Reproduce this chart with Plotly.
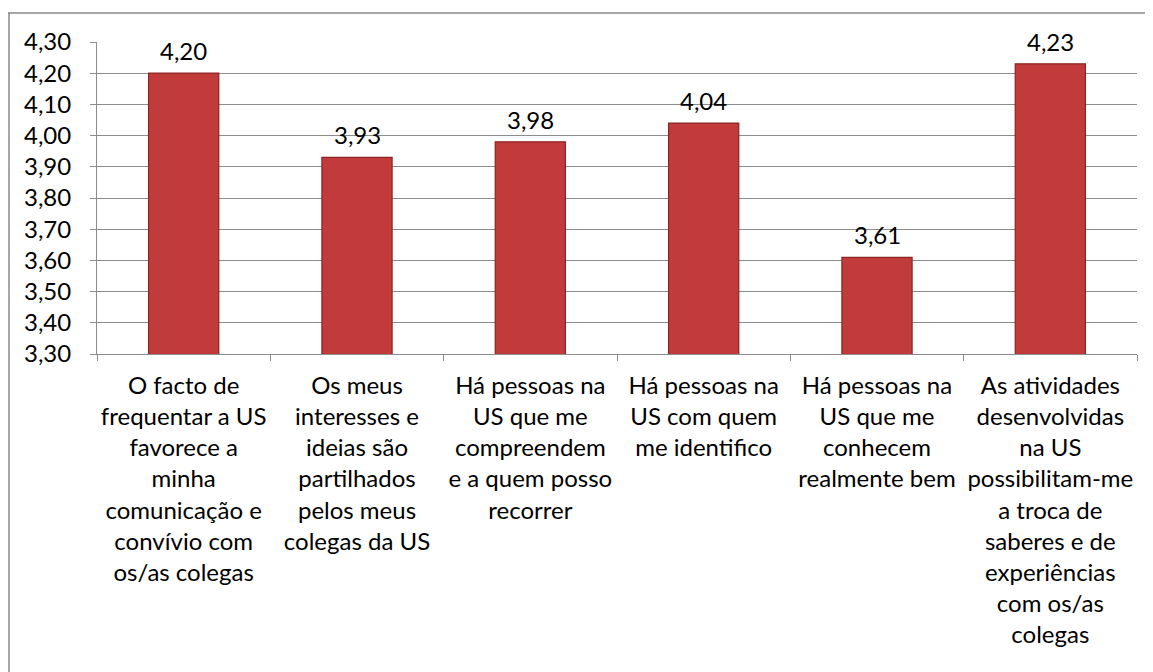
import plotly.graph_objects as go

categorias = [
    "O facto de<br>frequentar a US<br>favorece a<br>minha<br>comunicação e<br>convívio com<br>os/as colegas",
    "Os meus<br>interesses e<br>ideias são<br>partilhados<br>pelos meus<br>colegas da US",
    "Há pessoas na<br>US que me<br>compreendem<br>e a quem posso<br>recorrer",
    "Há pessoas na<br>US com quem<br>me identifico",
    "Há pessoas na<br>US que me<br>conhecem<br>realmente bem",
    "As atividades<br>desenvolvidas<br>na US<br>possibilitam-me<br>a troca de<br>saberes e de<br>experiências<br>com os/as<br>colegas",
]
medias = [4.20, 3.93, 3.98, 4.04, 3.61, 4.23]

fonte = dict(family="Lato, Open Sans, sans-serif", size=24, color="black")

fig = go.Figure()

fig.add_trace(go.Bar(
    x=categorias,
    y=medias,
    width=0.405,
    marker=dict(color="#c23b3b", line=dict(color="#8c2424", width=1.2)),
    cliponaxis=False,
    hoverinfo="skip",
))

# rótulos de dados acima das barras
for cat, val in zip(categorias, medias):
    fig.add_annotation(
        x=cat, y=val,
        text=f"{val:.2f}".replace(".", ","),
        showarrow=False,
        yanchor="bottom",
        yshift=6,
        font=fonte,
    )

# a página tem 8px de margem no corpo, por isso a figura fica um pouco menor
fig.update_layout(
    width=1145,
    height=664,
    margin=dict(l=89, r=16, t=34, b=318),
    plot_bgcolor="white",
    paper_bgcolor="white",
    separators=",.",
    showlegend=False,
    font=fonte,
    shapes=[
        # moldura do gráfico (só esquerda e topo visíveis)
        dict(type="line", xref="paper", yref="paper", x0=-0.0856, x1=1.1, y0=1.093, y1=1.093,
             line=dict(color="#888888", width=1.5)),
        dict(type="line", xref="paper", yref="paper", x0=-0.0846, x1=-0.0846, y0=1.093, y1=-1.1,
             line=dict(color="#888888", width=1.5)),
    ],
)

fig.update_yaxes(
    range=[3.30, 4.30],
    dtick=0.1,
    tickformat=".2f",
    showgrid=True,
    gridcolor="#8c8c8c",
    gridwidth=1,
    showline=True,
    linecolor="#8c8c8c",
    ticks="outside",
    ticklen=6,
    tickcolor="#8c8c8c",
    ticklabelstandoff=14,
    zeroline=False,
    tickfont=fonte,
)

fig.update_xaxes(
    showline=True,
    linecolor="#8c8c8c",
    ticks="outside",
    tickson="boundaries",
    ticklen=6,
    tickcolor="#8c8c8c",
    ticklabelstandoff=10,
    tickfont=fonte,
    tickangle=0,
)

fig.write_html("out.html")
